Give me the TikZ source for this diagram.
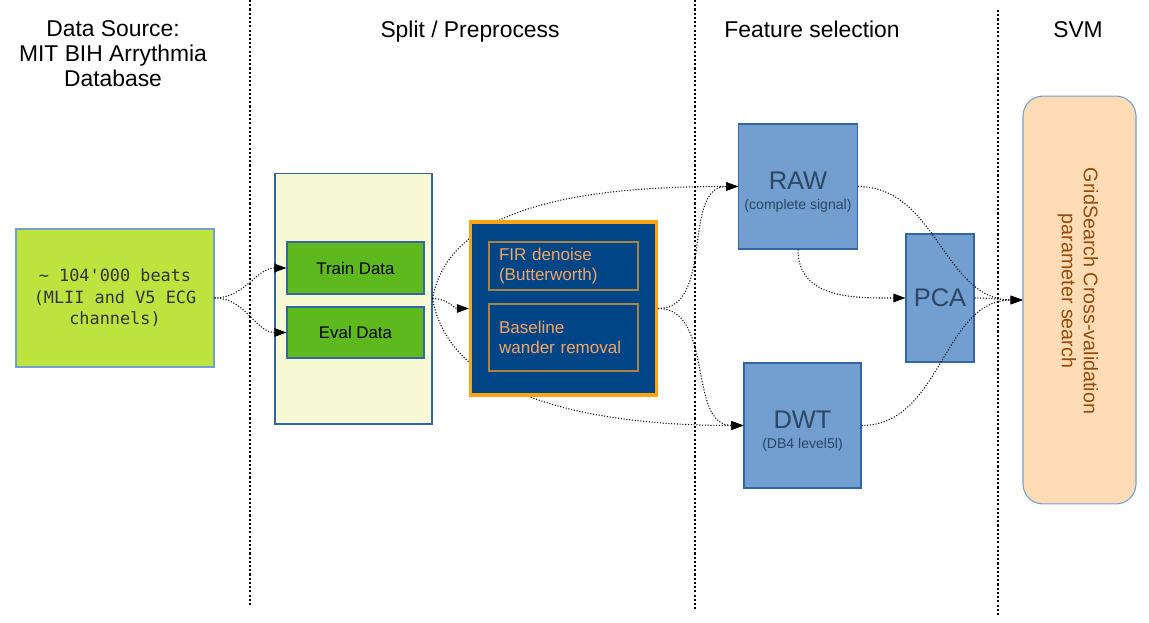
\documentclass[tikz,border=0pt]{standalone}
\usepackage{fontspec}
\setmainfont{Liberation Sans}
\setmonofont{DejaVu Sans Mono}
\usetikzlibrary{arrows.meta}

\definecolor{srcgreen}{RGB}{189,227,63}
\definecolor{datagreen}{RGB}{94,185,30}
\definecolor{paleyellow}{RGB}{247,249,212}
\definecolor{darkblue}{RGB}{0,69,134}
\definecolor{prepborder}{RGB}{255,165,20}
\definecolor{preptext}{RGB}{245,165,100}
\definecolor{stepline}{RGB}{170,130,70}
\definecolor{featblue}{RGB}{114,159,207}
\definecolor{edgeblue}{RGB}{52,101,164}
\definecolor{feattext}{RGB}{45,70,100}
\definecolor{svmfill}{RGB}{255,219,182}
\definecolor{svmtext}{RGB}{150,75,10}

\tikzset{
  head/.style={font=\fontsize{13}{14.2}\selectfont, align=center},
  lane/.style={line width=0.6pt, dash pattern=on 1.2pt off 1.2pt},
  flow/.style={densely dotted, line width=0.6pt, -{Triangle[length=2.4mm,width=1.7mm]}},
  srcbox/.style={draw=featblue, line width=0.6pt, fill=srcgreen, align=center,
    text=black!80, font=\ttfamily\fontsize{9.6}{12.2}\selectfont},
  databox/.style={draw=edgeblue, line width=0.6pt, fill=datagreen,
    font=\fontsize{9.6}{11}\selectfont},
  stepbox/.style={draw=stepline, line width=0.6pt, align=left, inner xsep=0.2cm,
    text width=2.58cm, text=preptext, font=\fontsize{9.7}{11.3}\selectfont},
  feat/.style={draw=edgeblue, line width=0.6pt, fill=featblue, align=center, text=feattext}
}

\begin{document}
\begin{tikzpicture}[x=0.02cm,y=-0.02cm]
    \useasboundingbox (0,0) rectangle (1149,622);

    % column headers
    \node[head] (hsrc)  at (113,54)  {Data Source:\\MIT BIH Arrythmia\\Database};
    \node[head, anchor=base] (hprep) at (470,37)  {Split / Preprocess};
    \node[head, anchor=base] (hfeat) at (812,37)  {Feature selection};
    \node[head, anchor=base] (hsvm)  at (1078,37) {SVM};

    % column separators
    \draw[lane] (250,0)  -- (250,605);
    \draw[lane] (695,0)  -- (695,610);
    \draw[lane] (998,10) -- (998,617);

    % data source and split
    \node[srcbox, minimum width=3.96cm, minimum height=2.76cm] (src) at (115,298)
        {\textasciitilde\ 104'000 beats\\(MLII and V5 ECG\\channels)};
    \node[draw=edgeblue, line width=0.6pt, fill=paleyellow,
          minimum width=3.14cm, minimum height=5.02cm] (split) at (353.5,298.5) {};
    \node[databox, minimum width=2.74cm, minimum height=1.04cm] (train) at (355.5,268) {Train Data};
    \node[databox, minimum width=2.74cm, minimum height=1.02cm] (eval)  at (355.5,332.5) {Eval Data};

    % feature boxes
    \node[feat, minimum width=2.36cm, minimum height=2.5cm, text height=0.96cm] (raw) at (798,186.5)
        {\fontsize{14.5}{15}\selectfont RAW\\[-1pt]\fontsize{8}{9}\selectfont (complete signal)};
    \node[feat, minimum width=2.34cm, minimum height=2.5cm, text height=0.96cm] (dwt) at (802.5,425.5)
        {\fontsize{14.5}{15}\selectfont DWT\\[-1pt]\fontsize{8}{9}\selectfont (DB4 level5l)};
    \node[feat, minimum width=1.36cm, minimum height=2.56cm, font=\fontsize{14.5}{15}\selectfont] (pca) at (940,298) {PCA};

    % svm
    \node[draw=featblue, line width=0.6pt, fill=svmfill, rounded corners=0.4cm,
          minimum width=2.26cm, minimum height=8.16cm] (svm) at (1079.5,300) {};
    \node[rotate=-90, align=center, text=svmtext, font=\fontsize{11.2}{12.6}\selectfont] (svmlab) at (1078,291)
        {GridSearch Cross-validation\\parameter search};

    % links passing behind the preprocessing box
    \draw[flow] (split.east) .. controls +(18,-98) and +(-139,0) .. (raw.west);
    \draw[flow] (split.east) .. controls +(18,102) and +(-144,0) .. (dwt.west);

    % preprocessing
    \node[draw=prepborder, line width=1.8pt, fill=darkblue,
          minimum width=3.72cm, minimum height=3.46cm] (prep) at (563.5,308.5) {};
    \node[stepbox, minimum height=0.96cm] (fir)  at (563.5,266)   {FIR denoise\\(Butterworth)};
    \node[stepbox, minimum height=1.34cm] (base) at (563.5,337.5) {Baseline\\wander removal};

    \path[flow] (src.east) edge[out=0,in=180] (train.west);
    \path[flow] (src.east) edge[out=0,in=180] (eval.west);
    \path[flow] (split.east) edge[out=0,in=180] (prep.west);
    \path[flow] (prep.east) edge[out=0,in=180] (raw.west);
    \path[flow] (prep.east) edge[out=0,in=180] (dwt.west);
    \draw[flow] (raw.south) .. controls +(0,50) and +(-50,0) .. (pca.west);
    \path[flow] (raw.east) edge[out=0,in=180] (svm.west);
    \path[flow] (pca.east) edge[out=0,in=180] (svm.west);
    \path[flow] (dwt.east) edge[out=0,in=180] (svm.west);
\end{tikzpicture}
\end{document}
